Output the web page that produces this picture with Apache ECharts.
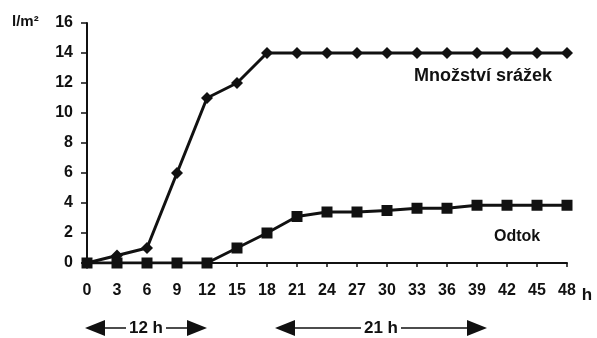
<!DOCTYPE html>
<html>
<head>
<meta charset="utf-8">
<script src="https://cdn.jsdelivr.net/npm/echarts@6/dist/echarts.min.js"></script>
<style>
  html, body { margin: 0; padding: 0; background: #fff; }
  #chart { width: 597px; height: 338px; }
</style>
</head>
<body>
<div id="chart"></div>
<script>
// hodiny na ose x
var hours = [0, 3, 6, 9, 12, 15, 18, 21, 24, 27, 30, 33, 36, 39, 42, 45, 48];
// Množství srážek (l/m²)
var srazky = [0, 0.5, 1, 6, 11, 12, 14, 14, 14, 14, 14, 14, 14, 14, 14, 14, 14];
// Odtok (l/m²)
var odtok = [0, 0, 0, 0, 0, 1, 2, 3.1, 3.4, 3.4, 3.5, 3.65, 3.65, 3.85, 3.85, 3.85, 3.85];
// šipky pod osou: [od, do, text]
var spans = [[0, 12, '12 h'], [19, 40, '21 h']];

var font = '"Liberation Sans", Arial, sans-serif';
var ink = '#111';

function pairs(ys) {
  return hours.map(function (h, i) { return [h, ys[i]]; });
}

var chart = echarts.init(document.getElementById('chart'));
chart.setOption({
  animation: false,
  grid: { left: 87, right: 30, top: 23, bottom: 75 },
  xAxis: {
    type: 'value', min: 0, max: 48, interval: 3,
    name: 'h', nameLocation: 'end', nameGap: 10,
    nameTextStyle: { fontFamily: font, fontSize: 17, color: ink, fontWeight: 'bold', verticalAlign: 'top', padding: [24, 0, 0, 0] },
    axisLine: { lineStyle: { color: ink, width: 2 } },
    axisTick: { length: 4, lineStyle: { color: ink, width: 1.5 } },
    axisLabel: { fontFamily: font, fontSize: 16, fontWeight: 'bold', color: ink, margin: 20 },
    splitLine: { show: false }
  },
  yAxis: {
    type: 'value', min: 0, max: 16, interval: 2,
    axisLine: { show: true, lineStyle: { color: ink, width: 2 } },
    axisTick: { show: true, length: 6, lineStyle: { color: ink, width: 1.5 } },
    axisLabel: { fontFamily: font, fontSize: 16, fontWeight: 'bold', color: ink, margin: 14 },
    splitLine: { show: false }
  },
  series: [{
    name: 'Množství srážek', type: 'line', data: pairs(srazky),
    symbol: 'diamond', symbolSize: 12,
    lineStyle: { color: ink, width: 3 }, itemStyle: { color: ink }
  }, {
    name: 'Odtok', type: 'line', data: pairs(odtok),
    symbol: 'rect', symbolSize: 11,
    lineStyle: { color: ink, width: 3 }, itemStyle: { color: ink }
  }]
});

var graphics = [];
// jednotka osy y
graphics.push({ type: 'text', left: 12, top: 14,
  style: { text: 'l/m²', font: 'bold 15px ' + font, fill: ink } });
// popisky řad
graphics.push({ type: 'text', left: 414, top: 67,
  style: { text: 'Množství srážek', font: 'bold 18px ' + font, fill: ink } });
graphics.push({ type: 'text', left: 494, top: 229,
  style: { text: 'Odtok', font: 'bold 16px ' + font, fill: ink } });

// šipky s délkou trvání
var ay = 328;
spans.forEach(function (s) {
  var x0 = chart.convertToPixel({ xAxisIndex: 0 }, s[0]) - 2;
  var x1 = chart.convertToPixel({ xAxisIndex: 0 }, s[1]);
  var mid = (x0 + x1) / 2;
  var half = 20;
  graphics.push({ type: 'polygon', shape: { points: [[x0, ay], [x0 + 20, ay - 8], [x0 + 20, ay + 8]] }, style: { fill: ink } });
  graphics.push({ type: 'polygon', shape: { points: [[x1, ay], [x1 - 20, ay - 8], [x1 - 20, ay + 8]] }, style: { fill: ink } });
  graphics.push({ type: 'line', shape: { x1: x0 + 18, y1: ay, x2: mid - half, y2: ay }, style: { stroke: ink, lineWidth: 1.5 } });
  graphics.push({ type: 'line', shape: { x1: mid + half, y1: ay, x2: x1 - 18, y2: ay }, style: { stroke: ink, lineWidth: 1.5 } });
  graphics.push({ type: 'text', x: mid, y: ay,
    style: { text: s[2], font: 'bold 17px ' + font, fill: ink, align: 'center', verticalAlign: 'middle' } });
});
chart.setOption({ graphic: graphics });
</script>
</body>
</html>
